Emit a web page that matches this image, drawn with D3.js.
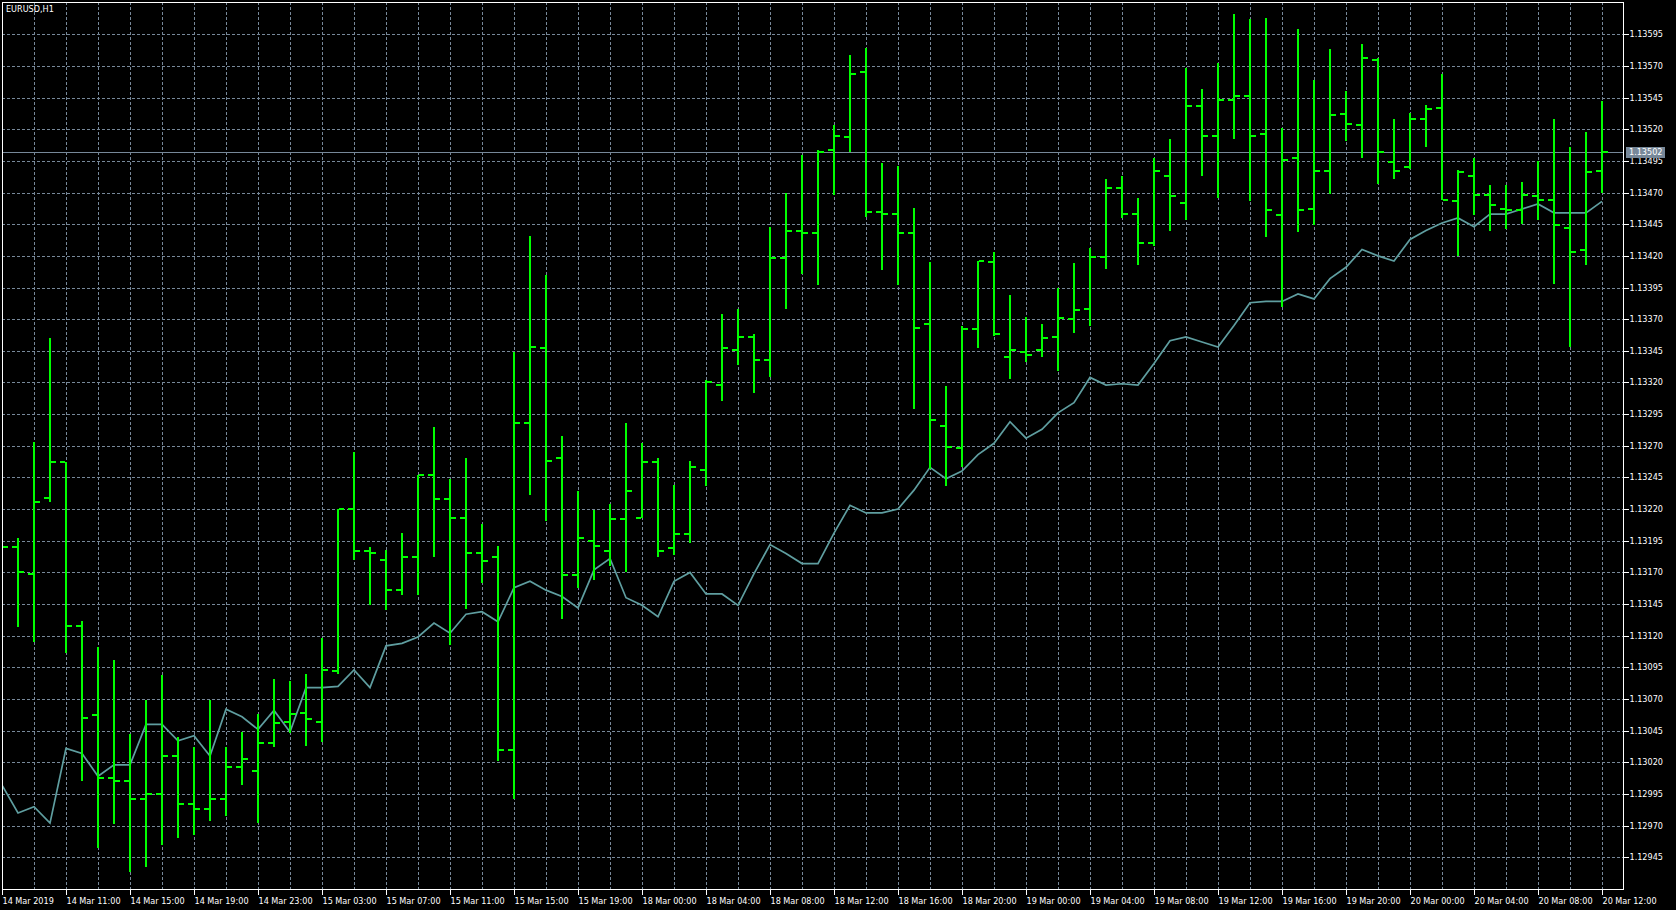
<!DOCTYPE html>
<html>
<head>
<meta charset="utf-8">
<title>EURUSD,H1</title>
<script src="https://cdnjs.cloudflare.com/ajax/libs/d3/7.8.5/d3.min.js"></script>
<style>
  html, body { margin: 0; padding: 0; background: #000; overflow: hidden; }
  svg { display: block; }
  text { font-family: "DejaVu Sans Condensed", "Liberation Sans", sans-serif; font-size: 9px; fill: #fff; }
</style>
</head>
<body>
<svg id="chart" width="1676" height="910"></svg>
<script>
'use strict';

// chart data (EURUSD, H1 bars from 14 Mar 2019 07:00 to 20 Mar 2019 12:00)
var symbol = 'EURUSD,H1';
var bidPrice = 1.13502;

var opens = [
  1.13190, 1.13190, 1.13169, 1.13229, 1.13257, 1.13128, 1.13057, 1.13008, 1.13005, 1.12991,
  1.12995, 1.13025, 1.12987, 1.12983, 1.12991, 1.13016, 1.13013, 1.13035, 1.13052, 1.13059,
  1.13052, 1.13092, 1.13220, 1.13187, 1.13180, 1.13156, 1.13182, 1.13247, 1.13228, 1.13213,
  1.13185, 1.13182, 1.13030, 1.13288, 1.13347, 1.13260, 1.13168, 1.13195, 1.13187, 1.13212,
  1.13213, 1.13257, 1.13189, 1.13200, 1.13251, 1.13318, 1.13346, 1.13356, 1.13338, 1.13418,
  1.13440, 1.13438, 1.13504, 1.13514, 1.13565, 1.13455, 1.13453, 1.13438, 1.13366, 1.13286,
  1.13268, 1.13362, 1.13415, 1.13340, 1.13344, 1.13346, 1.13356, 1.13370, 1.13378, 1.13419,
  1.13474, 1.13453, 1.13430, 1.13483, 1.13462, 1.13538, 1.13515, 1.13543, 1.13546, 1.13516,
  1.13452, 1.13497, 1.13457, 1.13487, 1.13532, 1.13523, 1.13575, 1.13494, 1.13490, 1.13528,
  1.13537, 1.13463, 1.13483, 1.13468, 1.13457, 1.13456, 1.13467, 1.13464, 1.13442, 1.13425,
  1.13487
];
var highs = [
  1.13205, 1.13197, 1.13273, 1.13355, 1.13257, 1.13132, 1.13111, 1.13101, 1.13042, 1.13069,
  1.13089, 1.13040, 1.13032, 1.13069, 1.13032, 1.13044, 1.13058, 1.13086, 1.13084, 1.13090,
  1.13118, 1.13220, 1.13265, 1.13190, 1.13188, 1.13201, 1.13247, 1.13285, 1.13244, 1.13260,
  1.13208, 1.13191, 1.13344, 1.13436, 1.13405, 1.13278, 1.13234, 1.13219, 1.13224, 1.13288,
  1.13272, 1.13260, 1.13239, 1.13258, 1.13322, 1.13374, 1.13378, 1.13358, 1.13443, 1.13470,
  1.13500, 1.13504, 1.13523, 1.13579, 1.13584, 1.13493, 1.13491, 1.13458, 1.13415, 1.13317,
  1.13365, 1.13416, 1.13423, 1.13389, 1.13372, 1.13366, 1.13395, 1.13414, 1.13426, 1.13481,
  1.13483, 1.13466, 1.13497, 1.13512, 1.13568, 1.13552, 1.13572, 1.13611, 1.13607, 1.13608,
  1.13521, 1.13599, 1.13559, 1.13583, 1.13550, 1.13587, 1.13576, 1.13528, 1.13533, 1.13539,
  1.13564, 1.13488, 1.13497, 1.13476, 1.13476, 1.13478, 1.13495, 1.13528, 1.13506, 1.13518,
  1.13542
];
var lows = [
  1.13165, 1.13127, 1.13115, 1.13226, 1.13106, 1.13005, 1.12952, 1.12971, 1.12933, 1.12937,
  1.12955, 1.12960, 1.12963, 1.12974, 1.12978, 1.13002, 1.12972, 1.13032, 1.13043, 1.13033,
  1.13036, 1.13090, 1.13180, 1.13144, 1.13140, 1.13152, 1.13152, 1.13182, 1.13113, 1.13141,
  1.13162, 1.13021, 1.12991, 1.13231, 1.13211, 1.13133, 1.13158, 1.13164, 1.13175, 1.13170,
  1.13213, 1.13182, 1.13184, 1.13193, 1.13238, 1.13305, 1.13334, 1.13312, 1.13324, 1.13378,
  1.13406, 1.13397, 1.13468, 1.13502, 1.13451, 1.13409, 1.13397, 1.13299, 1.13252, 1.13238,
  1.13253, 1.13347, 1.13357, 1.13323, 1.13336, 1.13340, 1.13329, 1.13359, 1.13365, 1.13410,
  1.13450, 1.13413, 1.13428, 1.13440, 1.13448, 1.13483, 1.13466, 1.13512, 1.13463, 1.13435,
  1.13380, 1.13439, 1.13444, 1.13469, 1.13511, 1.13497, 1.13477, 1.13481, 1.13489, 1.13506,
  1.13464, 1.13420, 1.13452, 1.13440, 1.13441, 1.13445, 1.13448, 1.13398, 1.13348, 1.13413,
  1.13470
];
var closes = [
  1.13190, 1.13170, 1.13226, 1.13257, 1.13128, 1.13055, 1.13008, 1.13005, 1.12991, 1.12995,
  1.13025, 1.12987, 1.12983, 1.12991, 1.13016, 1.13023, 1.13035, 1.13051, 1.13058, 1.13054,
  1.13093, 1.13220, 1.13187, 1.13185, 1.13156, 1.13182, 1.13247, 1.13228, 1.13213, 1.13185,
  1.13179, 1.13030, 1.13288, 1.13348, 1.13258, 1.13168, 1.13197, 1.13191, 1.13212, 1.13234,
  1.13257, 1.13187, 1.13200, 1.13253, 1.13320, 1.13347, 1.13356, 1.13338, 1.13418, 1.13440,
  1.13438, 1.13502, 1.13515, 1.13564, 1.13455, 1.13453, 1.13438, 1.13363, 1.13290, 1.13269,
  1.13362, 1.13416, 1.13358, 1.13346, 1.13342, 1.13355, 1.13371, 1.13377, 1.13419, 1.13474,
  1.13453, 1.13430, 1.13487, 1.13467, 1.13538, 1.13515, 1.13543, 1.13546, 1.13515, 1.13456,
  1.13496, 1.13456, 1.13487, 1.13531, 1.13524, 1.13576, 1.13502, 1.13487, 1.13528, 1.13536,
  1.13464, 1.13486, 1.13468, 1.13460, 1.13456, 1.13468, 1.13464, 1.13444, 1.13423, 1.13486,
  1.13502
];
// moving average line
var maValues = [
  1.13002, 1.12980, 1.12985, 1.12972, 1.13031, 1.13027, 1.13009, 1.13018, 1.13018, 1.13050,
  1.13050, 1.13037, 1.13041, 1.13025, 1.13062, 1.13056, 1.13046, 1.13061, 1.13044, 1.13079,
  1.13079, 1.13080, 1.13093, 1.13079, 1.13112, 1.13114, 1.13119, 1.13130, 1.13122, 1.13137,
  1.13139, 1.13131, 1.13158, 1.13163, 1.13156, 1.13151, 1.13142, 1.13172, 1.13181, 1.13150,
  1.13144, 1.13135, 1.13163, 1.13170, 1.13153, 1.13153, 1.13144, 1.13169, 1.13192, 1.13185,
  1.13177, 1.13177, 1.13201, 1.13223, 1.13217, 1.13217, 1.13220, 1.13235, 1.13253, 1.13244,
  1.13250, 1.13263, 1.13272, 1.13289, 1.13276, 1.13283, 1.13296, 1.13304, 1.13324, 1.13318,
  1.13319, 1.13318, 1.13335, 1.13353, 1.13356, 1.13352, 1.13348, 1.13365, 1.13383, 1.13384,
  1.13384, 1.13390, 1.13386, 1.13402, 1.13411, 1.13425, 1.13420, 1.13416, 1.13433, 1.13440,
  1.13446, 1.13450, 1.13443, 1.13453, 1.13453, 1.13457, 1.13461, 1.13454, 1.13454, 1.13454,
  1.13463
];

// time axis labels, one every 4 bars
var timeLabels = [
  '14 Mar 2019', '14 Mar 11:00', '14 Mar 15:00', '14 Mar 19:00', '14 Mar 23:00',
  '15 Mar 03:00', '15 Mar 07:00', '15 Mar 11:00', '15 Mar 15:00', '15 Mar 19:00',
  '18 Mar 00:00', '18 Mar 04:00', '18 Mar 08:00', '18 Mar 12:00', '18 Mar 16:00',
  '18 Mar 20:00', '19 Mar 00:00', '19 Mar 04:00', '19 Mar 08:00', '19 Mar 12:00',
  '19 Mar 16:00', '19 Mar 20:00', '20 Mar 00:00', '20 Mar 04:00', '20 Mar 08:00',
  '20 Mar 12:00'
];
var priceTicks = [
  1.12945, 1.12970, 1.12995, 1.13020, 1.13045, 1.13070, 1.13095, 1.13120, 1.13145,
  1.13170, 1.13195, 1.13220, 1.13245, 1.13270, 1.13295, 1.13320, 1.13345, 1.13370,
  1.13395, 1.13420, 1.13445, 1.13470, 1.13495, 1.13520, 1.13545, 1.13570, 1.13595
];

// layout
var plotLeft = 2, plotRight = 1623, plotTop = 2, plotBottom = 889;
var barColor = '#00ff00';
var maColor = '#5f9ea0';
var gridColor = '#778899';
var fontFamily = '"DejaVu Sans Condensed", "Liberation Sans", sans-serif';

var svg = d3.select('#chart');
svg.append('rect').attr('width', 1676).attr('height', 910).attr('fill', '#000');

var barIndex = d3.range(opens.length);
var x = d3.scaleLinear().domain([0, opens.length - 1]).range([2, 1602]);
var y = d3.scaleLinear().domain([1.12945, 1.13595]).range([857.3, 34.3]);

function px(v) { return Math.round(v) + 0.5; }

// grid
var grid = svg.append('g').attr('shape-rendering', 'crispEdges')
  .attr('stroke', gridColor).attr('stroke-dasharray', '3,2');

grid.selectAll('.hgrid').data(priceTicks).enter().append('line')
  .attr('x1', plotLeft).attr('x2', plotRight)
  .attr('y1', function(d){ return px(y(d)); })
  .attr('y2', function(d){ return px(y(d)); });

var vgridIdx = barIndex.filter(function(i){ return i > 0 && i % 2 === 0; });
grid.selectAll('.vgrid').data(vgridIdx).enter().append('line')
  .attr('y1', plotTop).attr('y2', plotBottom)
  .attr('x1', function(i){ return px(x(i)); })
  .attr('x2', function(i){ return px(x(i)); });

// bid line
svg.append('line')
  .attr('x1', plotLeft).attr('x2', plotRight)
  .attr('y1', px(y(bidPrice))).attr('y2', px(y(bidPrice)))
  .attr('stroke', gridColor).attr('shape-rendering', 'crispEdges');

// moving average
var maLine = d3.line()
  .x(function(d, i){ return x(i); })
  .y(function(d){ return y(d); });
svg.append('path').datum(maValues)
  .attr('d', maLine)
  .attr('fill', 'none')
  .attr('stroke', maColor)
  .attr('stroke-width', 1.7);

// OHLC bars
var bars = svg.append('g').attr('fill', barColor).attr('shape-rendering', 'crispEdges');
var bar = bars.selectAll('.bar').data(barIndex).enter().append('g');

bar.append('rect')
  .attr('x', function(i){ return Math.round(x(i)) - 1; })
  .attr('width', 2)
  .attr('y', function(i){ return Math.round(y(highs[i])); })
  .attr('height', function(i){ return Math.max(2, Math.round(y(lows[i])) - Math.round(y(highs[i]))); });

bar.append('rect')
  .attr('x', function(i){ return Math.round(x(i)) - 6; })
  .attr('width', 5)
  .attr('y', function(i){ return Math.round(y(opens[i])) - 1; })
  .attr('height', 2);

bar.append('rect')
  .attr('x', function(i){ return Math.round(x(i)) + 1; })
  .attr('width', 5)
  .attr('y', function(i){ return Math.round(y(closes[i])) - 1; })
  .attr('height', 2);

// black strip outside the plot so nothing shows past the border
svg.append('rect').attr('x', 0).attr('y', 0).attr('width', 2).attr('height', 910).attr('fill', '#000');

// frame
svg.append('rect')
  .attr('x', plotLeft + 0.5).attr('y', plotTop + 0.5)
  .attr('width', plotRight - plotLeft).attr('height', plotBottom - plotTop)
  .attr('fill', 'none').attr('stroke', '#fff')
  .attr('shape-rendering', 'crispEdges');

// price axis
var yAxis = d3.axisRight(y)
  .tickValues(priceTicks)
  .tickSize(5)
  .tickPadding(1)
  .tickFormat(d3.format('.5f'));

var ya = svg.append('g')
  .attr('transform', 'translate(' + (plotRight + 0.5) + ',0)')
  .call(yAxis);
ya.select('.domain').remove();
ya.selectAll('.tick').attr('transform', function(d){ return 'translate(0,' + (Math.round(y(d)) + 0.5) + ')'; });
ya.selectAll('.tick line').attr('stroke', '#fff').attr('shape-rendering', 'crispEdges');
ya.selectAll('.tick text').attr('fill', '#fff')
  .style('font-family', fontFamily).style('font-size', '9px');

// time axis
var xTickIdx = timeLabels.map(function(d, k){ return k * 4; });
var xAxis = d3.axisBottom(x)
  .tickValues(xTickIdx)
  .tickSize(5)
  .tickPadding(3)
  .tickFormat(function(i){ return timeLabels[i / 4]; });

var xa = svg.append('g')
  .attr('transform', 'translate(0,' + (plotBottom + 0.5) + ')')
  .call(xAxis);
xa.select('.domain').remove();
xa.selectAll('.tick').attr('transform', function(i){ return 'translate(' + (Math.round(x(i)) + 0.5) + ',0)'; });
xa.selectAll('.tick line').attr('stroke', '#fff').attr('shape-rendering', 'crispEdges');
xa.selectAll('.tick text').attr('fill', '#fff').attr('text-anchor', 'start').attr('x', 0)
  .style('font-family', fontFamily).style('font-size', '9px');

// bid price label
var bidY = Math.round(y(bidPrice));
svg.append('rect')
  .attr('x', plotRight + 3).attr('y', bidY - 5)
  .attr('width', 39).attr('height', 11)
  .attr('fill', gridColor);
svg.append('text')
  .attr('x', plotRight + 6).attr('y', bidY + 0.5).attr('dy', '0.32em')
  .text(d3.format('.5f')(bidPrice));

// symbol caption
svg.append('text')
  .attr('x', 6).attr('y', 12)
  .text(symbol);
</script>
</body>
</html>
